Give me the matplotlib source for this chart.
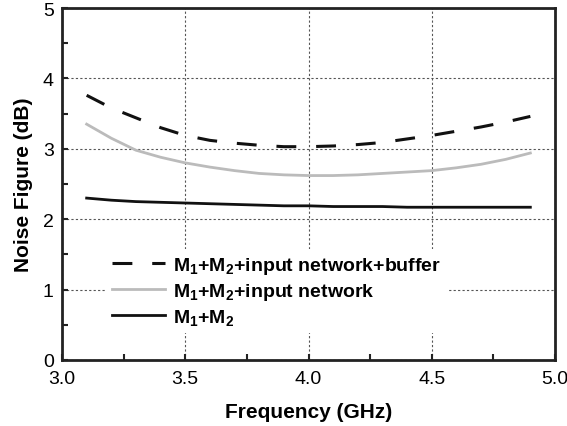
import matplotlib
matplotlib.use('Agg')
import matplotlib.pyplot as plt
from matplotlib.ticker import MultipleLocator

plt.rcParams['font.family'] = 'Liberation Sans'
plt.rcParams['mathtext.fontset'] = 'custom'
plt.rcParams['mathtext.rm'] = 'Liberation Sans:bold'
plt.rcParams['mathtext.bf'] = 'Liberation Sans:bold'
plt.rcParams['mathtext.default'] = 'bf'

# Noise figure data (dB) vs frequency (GHz)
freq = [3.1, 3.2, 3.3, 3.4, 3.5, 3.6, 3.7, 3.8, 3.9, 4.0, 4.1, 4.2, 4.3, 4.4, 4.5, 4.6, 4.7, 4.8, 4.9]
nf_buffer = [3.76, 3.58, 3.44, 3.30, 3.19, 3.12, 3.08, 3.05, 3.03, 3.03, 3.04, 3.06, 3.09, 3.14, 3.19, 3.25, 3.31, 3.38, 3.46]
nf_input = [3.35, 3.15, 2.98, 2.88, 2.80, 2.74, 2.69, 2.65, 2.63, 2.62, 2.62, 2.63, 2.65, 2.67, 2.69, 2.73, 2.78, 2.85, 2.94]
nf_m1m2 = [2.30, 2.27, 2.25, 2.24, 2.23, 2.22, 2.21, 2.20, 2.19, 2.19, 2.18, 2.18, 2.18, 2.17, 2.17, 2.17, 2.17, 2.17, 2.17]

labels = [r'M$_{1}$+M$_{2}$+input network+buffer',
          r'M$_{1}$+M$_{2}$+input network',
          r'M$_{1}$+M$_{2}$']

fig = plt.figure(figsize=(5.67, 4.27), dpi=100)
ax = fig.add_axes([62/567, 66/427, 493/567, 352/427])

ax.plot(freq, nf_buffer, color='#111111', lw=2.2, dashes=(6.5, 6.5), label=labels[0])
ax.plot(freq, nf_input, color='#bbbbbb', lw=2.0, label=labels[1])
ax.plot(freq, nf_m1m2, color='#111111', lw=2.0, label=labels[2])

ax.set_xlim(3.0, 5.0)
ax.set_ylim(0, 5)
ax.set_xticks([3.0, 3.5, 4.0, 4.5, 5.0])
ax.set_xticklabels(['3.0', '3.5', '4.0', '4.5', '5.0'])
ax.xaxis.set_minor_locator(MultipleLocator(0.25))
ax.yaxis.set_major_locator(MultipleLocator(1))
ax.yaxis.set_minor_locator(MultipleLocator(0.5))
ax.tick_params(which='both', direction='in', labelsize=14, width=1.5, color='#222222')
ax.tick_params(which='major', length=4)
ax.tick_params(which='minor', length=4)
ax.tick_params(axis='x', pad=7)
ax.tick_params(axis='y', pad=6)
ax.grid(True, which='major', color='#555555', linestyle=(0, (2, 2)), lw=0.8)
for s in ax.spines.values():
    s.set_linewidth(2.0)
    s.set_color('#222222')

ax.set_xlabel('Frequency (GHz)', fontsize=15, fontweight='bold', labelpad=11)
ax.set_ylabel('Noise Figure (dB)', fontsize=15, fontweight='bold', labelpad=7)

leg = ax.legend(loc='center left', bbox_to_anchor=(0.07, 0.196),
                prop={'weight': 'bold', 'size': 14}, frameon=True, fancybox=False,
                edgecolor='none', facecolor='white', framealpha=1,
                handlelength=2.7, handletextpad=0.45, labelspacing=0.25,
                borderpad=0.3)

fig.savefig('out.png', dpi=100)
